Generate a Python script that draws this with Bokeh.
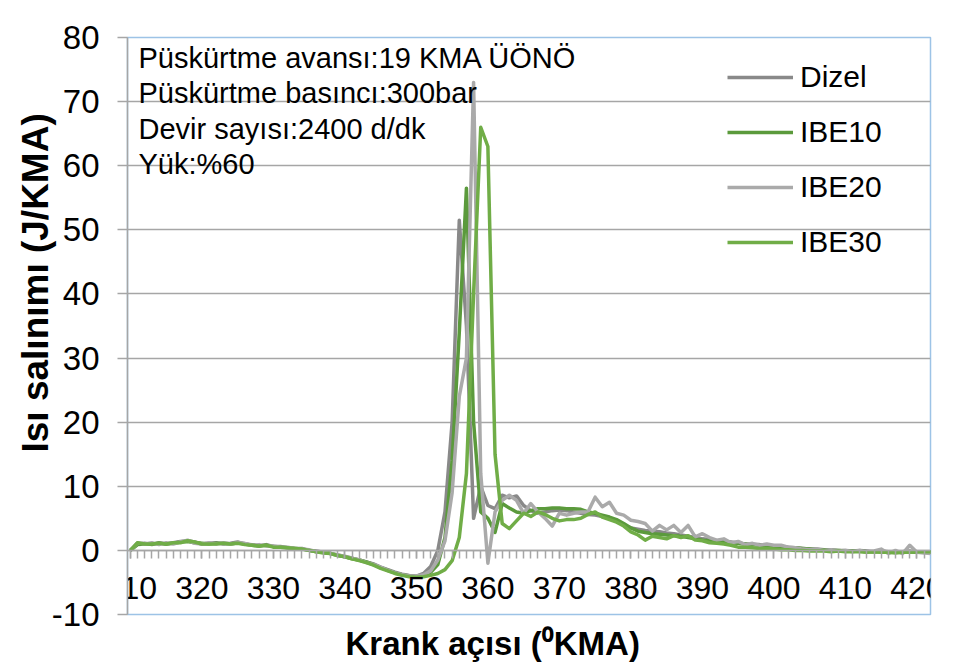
from bokeh.plotting import figure
from bokeh.models import (Range1d, SingleIntervalTicker, Legend, LegendItem,
                          Label, Title)
from bokeh.embed import file_html
from bokeh.resources import INLINE

# ---------------- data ----------------
crank_angle = list(range(310, 423))  # degrees KMA

dizel = [
    0.0, 1.0, 1.1, 0.9, 1.2, 1.0, 1.2, 1.4, 1.5, 1.3,
    1.0, 1.1, 1.2, 1.0, 1.1, 1.3, 1.0, 0.9, 0.7, 0.9,
    0.6, 0.6, 0.4, 0.3, 0.3, 0.0, -0.1, -0.3, -0.5, -0.7,
    -1.0, -1.2, -1.5, -1.8, -2.1, -2.6, -3.0, -3.4, -3.7, -3.9,
    -4.0, -3.6,
    -2.5, 0.0, 6.0, 20.0, 51.5, 35.0, 5.0, 10.0, 7.0, 6.5,
    8.6, 8.2, 8.5, 7.0, 6.2, 5.8, 6.0, 6.2, 6.3, 6.2,
    6.0, 5.8, 5.6, 5.5, 5.3, 5.0, 4.6, 4.0, 3.5, 3.3,
    3.1, 3.0, 2.9, 2.7, 2.6, 2.4, 2.2, 2.0, 1.8, 1.7,
    1.5, 1.4, 1.3, 1.1, 1.0, 0.9, 0.9, 0.8, 0.7, 0.6,
    0.5, 0.4, 0.3, 0.2, 0.2, 0.1, 0.1, 0.0, 0.0, -0.1,
    0.0, -0.1, -0.2, -0.1, -0.2, -0.3, -0.2, -0.1, -0.3, -0.2,
    -0.3,
]

ibe10 = [
    0.0, 0.9, 1.0, 1.0, 1.1, 1.0, 1.1, 1.3, 1.4, 1.2,
    1.1, 1.0, 1.1, 1.1, 1.0, 1.2, 1.0, 0.8, 0.7, 0.8,
    0.6, 0.5, 0.4, 0.3, 0.2, 0.0, -0.2, -0.3, -0.5, -0.8,
    -1.0, -1.3, -1.5, -1.8, -2.2, -2.7, -3.1, -3.5, -3.8, -4.0,
    -4.1, -3.9,
    -3.4, -2.2, 2.0, 14.0, 34.0, 56.5, 20.0, 6.0, 5.0, 2.8,
    7.3, 6.6, 6.0, 5.8, 6.2, 6.5, 6.5, 6.6, 6.6, 6.5,
    6.5, 6.4, 6.0, 5.8, 5.5, 5.2, 4.8, 4.2, 3.5, 3.0,
    2.8, 2.6, 2.5, 2.4, 2.3, 2.2, 2.0, 1.8, 1.6, 1.5,
    1.4, 1.3, 1.2, 1.1, 1.0, 0.9, 0.8, 0.7, 0.6, 0.5,
    0.4, 0.4, 0.3, 0.2, 0.1, 0.1, 0.0, 0.0, -0.1, -0.1,
    -0.1, -0.2, -0.2, -0.2, -0.3, -0.3, -0.3, -0.2, -0.3, -0.3,
    -0.3,
]

ibe20 = [
    0.0, 1.2, 1.0, 1.2, 0.9, 1.2, 1.0, 1.3, 1.6, 1.1,
    1.0, 1.2, 1.0, 1.2, 1.0, 1.2, 1.1, 0.8, 0.9, 0.7,
    0.7, 0.5, 0.5, 0.3, 0.2, 0.1, -0.2, -0.2, -0.5, -0.7,
    -0.9, -1.2, -1.5, -1.9, -2.2, -2.6, -3.1, -3.5, -3.8, -4.0,
    -4.0, -3.8,
    -3.2, -1.5, 1.5, 9.0, 24.0, 30.0, 73.0, 12.0, -2.0, 6.0,
    7.8, 8.6, 7.8, 5.8, 7.3, 6.0, 5.0, 3.8, 5.8, 5.5,
    5.8, 6.0, 6.0, 8.3, 6.8, 7.5, 5.8, 5.5, 4.7, 4.5,
    4.2, 3.0, 3.9, 3.2, 3.9, 2.8, 3.9, 2.1, 2.6, 2.0,
    1.6, 1.8, 1.2, 1.4, 0.9, 1.1, 0.8, 1.0, 0.8, 0.8,
    0.5, 0.4, 0.2, 0.1, 0.2, 0.0, 0.1, -0.1, 0.0, -0.2,
    0.0, -0.3, -0.1, 0.2, -0.5, 0.0, -0.5, 0.8, -0.3, -0.4,
    -0.5,
]

ibe30 = [
    0.0, 1.2, 1.0, 1.0, 1.1, 1.0, 1.2, 1.2, 1.5, 1.3,
    1.0, 1.0, 1.0, 1.1, 1.0, 1.1, 0.9, 0.8, 0.7, 0.8,
    0.5, 0.5, 0.4, 0.3, 0.2, 0.0, -0.2, -0.4, -0.5, -0.8,
    -1.0, -1.3, -1.6, -1.9, -2.3, -2.8, -3.2, -3.6, -3.9, -4.1,
    -4.2, -4.1,
    -3.9, -3.6, -3.0, -1.6, 2.0, 12.0, 40.0, 66.0, 63.0, 15.0,
    4.2, 3.4, 4.6, 5.8, 5.3, 6.0, 5.6, 5.0, 4.6, 4.8,
    4.8, 5.0, 5.6, 6.0, 5.2, 4.8, 4.4, 3.8, 2.9, 2.4,
    1.6, 2.2, 2.0, 1.8, 2.3, 2.0, 2.3, 1.6, 1.5, 1.2,
    1.1, 1.0, 0.8, 0.5, 0.5, 0.4, 0.3, 0.3, 0.2, 0.1,
    0.1, 0.0, 0.0, -0.1, -0.1, -0.1, -0.2, -0.1, -0.2, -0.2,
    -0.2, -0.3, -0.2, -0.3, -0.3, -0.4, -0.3, -0.3, -0.2, -0.2,
    -0.2,
]

series_names = ["Dizel", "IBE10", "IBE20", "IBE30"]
series_values = [dizel, ibe10, ibe20, ibe30]
series_colors = ["#898989", "#5B9A3C", "#AAAAAA", "#70AD47"]

annotation_lines = [
    "Püskürtme avansı:19 KMA ÜÖNÖ",
    "Püskürtme basıncı:300bar",
    "Devir sayısı:2400 d/dk",
    "Yük:%60",
]

x_title = "Krank açısı (⁰KMA)"
y_title = "Isı salınımı (J/KMA)"

# ---------------- figure ----------------
FONT = "Liberation Sans"
GRID = "#A6A6A6"

p = figure(width=966, height=671, output_backend="svg", toolbar_location=None,
           x_range=Range1d(309.6, 421.9), y_range=Range1d(-10, 80),
           min_border_left=127, min_border_right=36,
           min_border_top=37, min_border_bottom=57)

p.background_fill_color = "white"
p.border_fill_color = "white"
p.outline_line_color = "#9DC3E6"
p.outline_line_width = 1.5

p.xgrid.visible = False
p.ygrid.grid_line_color = GRID
p.ygrid.grid_line_width = 1.5

# x axis placed on y = 0
xa = p.xaxis[0]
xa.fixed_location = 0
xa.ticker = SingleIntervalTicker(interval=10, num_minor_ticks=10)
xa.axis_line_color = GRID
xa.axis_line_width = 1.5
xa.major_tick_line_color = GRID
xa.minor_tick_line_color = GRID
xa.major_tick_line_width = 1.5
xa.minor_tick_line_width = 1.5
xa.major_tick_in = 0
xa.major_tick_out = 8
xa.minor_tick_in = 0
xa.minor_tick_out = 8
xa.major_label_text_font = FONT
xa.major_label_text_font_size = "32px"
xa.major_label_text_color = "#000000"
xa.major_label_standoff = 19

ya = p.yaxis[0]
ya.ticker = SingleIntervalTicker(interval=10, num_minor_ticks=0)
ya.axis_line_color = GRID
ya.axis_line_width = 1.5
ya.major_tick_line_color = GRID
ya.major_tick_line_width = 1.5
ya.major_tick_in = 0
ya.major_tick_out = 10
ya.major_label_text_font = FONT
ya.major_label_text_font_size = "33px"
ya.major_label_text_color = "#000000"
ya.major_label_standoff = 18
ya.major_label_overrides = {-10: "-10"}

# axis titles as side titles
p.add_layout(Title(text=y_title, align="left", offset=162, standoff=-14,
                   text_font=FONT, text_font_size="37px",
                   text_font_style="bold", text_color="#000000"), "left")
p.add_layout(Title(text=x_title, align="left", offset=218, standoff=17,
                   text_font=FONT, text_font_size="33px",
                   text_font_style="bold", text_color="#000000"), "below")

renderers = []
for name, vals, col in zip(series_names, series_values, series_colors):
    r = p.line(crank_angle, vals, line_color=col, line_width=3.5,
               line_join="round")
    renderers.append(r)

legend = Legend(items=[LegendItem(label=n, renderers=[r])
                       for n, r in zip(series_names, renderers)],
                location=(600, 355), orientation="vertical",
                border_line_color=None, background_fill_alpha=0,
                padding=0, margin=0, spacing=21,
                glyph_width=66, glyph_height=34, label_height=34,
                label_standoff=7,
                label_text_font=FONT, label_text_font_size="30px",
                label_text_color="#000000")
p.add_layout(legend)

for i, line in enumerate(annotation_lines):
    p.add_layout(Label(x=11, y=557 - i * 35.5, x_units="screen", y_units="screen",
                       text=line, text_font=FONT, text_font_size="29px",
                       text_baseline="middle", text_color="#000000"))

open("out.html", "w").write(file_html(p, INLINE))
